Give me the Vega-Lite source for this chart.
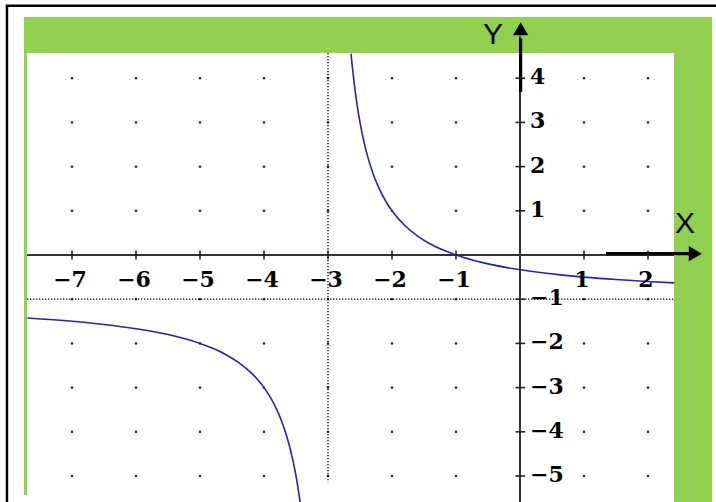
{
  "$schema": "https://vega.github.io/schema/vega-lite/v6.json",
  "width": 716,
  "height": 502,
  "autosize": "none",
  "padding": 0,
  "background": "white",
  "config": {"view": {"stroke": null}},
  "datasets": {
    "curve": [
      {"b": "L", "x": -7.70, "y": -1.426},
      {"b": "L", "x": -7.0, "y": -1.5},
      {"b": "L", "x": -6.5, "y": -1.571},
      {"b": "L", "x": -6.0, "y": -1.667},
      {"b": "L", "x": -5.5, "y": -1.8},
      {"b": "L", "x": -5.0, "y": -2.0},
      {"b": "L", "x": -4.8, "y": -2.111},
      {"b": "L", "x": -4.6, "y": -2.25},
      {"b": "L", "x": -4.4, "y": -2.429},
      {"b": "L", "x": -4.2, "y": -2.667},
      {"b": "L", "x": -4.1, "y": -2.818},
      {"b": "L", "x": -4.0, "y": -3.0},
      {"b": "L", "x": -3.9, "y": -3.222},
      {"b": "L", "x": -3.8, "y": -3.5},
      {"b": "L", "x": -3.7, "y": -3.857},
      {"b": "L", "x": -3.65, "y": -4.077},
      {"b": "L", "x": -3.6, "y": -4.333},
      {"b": "L", "x": -3.55, "y": -4.636},
      {"b": "L", "x": -3.5, "y": -5.0},
      {"b": "L", "x": -3.47, "y": -5.255},
      {"b": "L", "x": -3.44, "y": -5.545},
      {"b": "L", "x": -3.435, "y": -5.598},
      {"b": "R", "x": -2.64, "y": 4.556},
      {"b": "R", "x": -2.62, "y": 4.263},
      {"b": "R", "x": -2.6, "y": 4.0},
      {"b": "R", "x": -2.55, "y": 3.444},
      {"b": "R", "x": -2.5, "y": 3.0},
      {"b": "R", "x": -2.45, "y": 2.636},
      {"b": "R", "x": -2.4, "y": 2.333},
      {"b": "R", "x": -2.3, "y": 1.857},
      {"b": "R", "x": -2.2, "y": 1.5},
      {"b": "R", "x": -2.1, "y": 1.222},
      {"b": "R", "x": -2.0, "y": 1.0},
      {"b": "R", "x": -1.8, "y": 0.667},
      {"b": "R", "x": -1.6, "y": 0.429},
      {"b": "R", "x": -1.4, "y": 0.25},
      {"b": "R", "x": -1.2, "y": 0.111},
      {"b": "R", "x": -1.0, "y": 0.0},
      {"b": "R", "x": -0.6, "y": -0.167},
      {"b": "R", "x": -0.2, "y": -0.286},
      {"b": "R", "x": 0.2, "y": -0.375},
      {"b": "R", "x": 0.6, "y": -0.444},
      {"b": "R", "x": 1.0, "y": -0.5},
      {"b": "R", "x": 1.5, "y": -0.556},
      {"b": "R", "x": 2.0, "y": -0.6},
      {"b": "R", "x": 2.41, "y": -0.63}
    ],
    "gridDots": [
      {"gx": -7, "gy": [-5, -4, -3, -2, -1, 1, 2, 3, 4]},
      {"gx": -6, "gy": [-5, -4, -3, -2, -1, 1, 2, 3, 4]},
      {"gx": -5, "gy": [-5, -4, -3, -2, -1, 1, 2, 3, 4]},
      {"gx": -4, "gy": [-5, -4, -3, -2, -1, 1, 2, 3, 4]},
      {"gx": -3, "gy": [-5, -4, -3, -2, -1, 1, 2, 3, 4]},
      {"gx": -2, "gy": [-5, -4, -3, -2, -1, 1, 2, 3, 4]},
      {"gx": -1, "gy": [-5, -4, -3, -2, -1, 1, 2, 3, 4]},
      {"gx": 1, "gy": [-5, -4, -3, -2, -1, 1, 2, 3, 4]},
      {"gx": 2, "gy": [-5, -4, -3, -2, -1, 1, 2, 3, 4]}
    ],
    "xTicks": [
      {"v": -7, "t": "−7"}, {"v": -6, "t": "−6"}, {"v": -5, "t": "−5"},
      {"v": -4, "t": "−4"}, {"v": -3, "t": "−3"}, {"v": -2, "t": "−2"},
      {"v": -1, "t": "−1"}, {"v": 1, "t": "1"}, {"v": 2, "t": "2"}
    ],
    "yTicks": [
      {"v": 4, "t": "4"}, {"v": 3, "t": "3"}, {"v": 2, "t": "2"}, {"v": 1, "t": "1"},
      {"v": -1, "t": "−1"}, {"v": -2, "t": "−2"}, {"v": -3, "t": "−3"},
      {"v": -4, "t": "−4"}, {"v": -5, "t": "−5"}
    ],
    "one": [{}]
  },
  "layer": [
    {
      "data": {"name": "one"},
      "mark": {"type": "rule", "color": "black", "strokeWidth": 2.5},
      "encoding": {
        "x": {"datum": -8.016, "type": "quantitative", "scale": {"domain": [-8.125, 3.0625], "nice": false, "zero": false}, "axis": null},
        "y": {"datum": 5.64, "type": "quantitative", "scale": {"domain": [-5.5882, 5.7692], "nice": false, "zero": false}, "axis": null},
        "y2": {"datum": -5.6}
      }
    },
    {
      "data": {"name": "one"},
      "mark": {"type": "rule", "color": "black", "strokeWidth": 2.5},
      "encoding": {
        "x": {"datum": -8.035, "type": "quantitative"},
        "x2": {"datum": 3.07},
        "y": {"datum": 5.64, "type": "quantitative"}
      }
    },
    {
      "data": {"name": "one"},
      "mark": {"type": "rect", "color": "#92D050"},
      "encoding": {
        "x": {"datum": -7.75, "type": "quantitative"},
        "x2": {"datum": 3.0},
        "y": {"datum": 5.385, "type": "quantitative"},
        "y2": {"datum": -5.43}
      }
    },
    {
      "data": {"name": "one"},
      "mark": {"type": "rect", "color": "#92D050"},
      "encoding": {
        "x": {"datum": 2.406, "type": "quantitative"},
        "x2": {"datum": 3.0},
        "y": {"datum": -5.43, "type": "quantitative"},
        "y2": {"datum": -5.5882}
      }
    },
    {
      "data": {"name": "one"},
      "mark": {"type": "rect", "color": "white"},
      "encoding": {
        "x": {"datum": -7.703, "type": "quantitative"},
        "x2": {"datum": 2.406},
        "y": {"datum": 4.57, "type": "quantitative"},
        "y2": {"datum": -5.5882}
      }
    },
    {
      "data": {"name": "gridDots"},
      "transform": [{"flatten": ["gy"]}],
      "mark": {"type": "square", "color": "#222222", "size": 5, "opacity": 1},
      "encoding": {
        "x": {"field": "gx", "type": "quantitative"},
        "y": {"field": "gy", "type": "quantitative"}
      }
    },
    {
      "data": {"name": "one"},
      "mark": {"type": "rule", "color": "black", "strokeWidth": 1.3, "strokeDash": [1.3, 1.7]},
      "encoding": {
        "x": {"datum": -3, "type": "quantitative"},
        "y": {"datum": 4.57, "type": "quantitative"},
        "y2": {"datum": -5.14}
      }
    },
    {
      "data": {"name": "one"},
      "mark": {"type": "rule", "color": "black", "strokeWidth": 1.3, "strokeDash": [1.3, 1.7]},
      "encoding": {
        "x": {"datum": -7.703, "type": "quantitative"},
        "x2": {"datum": 2.406},
        "y": {"datum": -1, "type": "quantitative"}
      }
    },
    {
      "data": {"name": "curve"},
      "mark": {"type": "line", "color": "#2626a6", "strokeWidth": 1.6, "interpolate": "monotone", "clip": true},
      "encoding": {
        "x": {"field": "x", "type": "quantitative"},
        "y": {"field": "y", "type": "quantitative"},
        "detail": {"field": "b"}
      }
    },
    {
      "data": {"name": "one"},
      "mark": {"type": "rule", "color": "#333333", "strokeWidth": 2},
      "encoding": {
        "x": {"datum": -7.703, "type": "quantitative"},
        "x2": {"datum": 2.406},
        "y": {"datum": 0, "type": "quantitative"}
      }
    },
    {
      "data": {"name": "one"},
      "mark": {"type": "rule", "color": "#333333", "strokeWidth": 2},
      "encoding": {
        "x": {"datum": 0, "type": "quantitative"},
        "y": {"datum": 4.95, "type": "quantitative"},
        "y2": {"datum": -5.6}
      }
    },
    {
      "data": {"name": "one"},
      "mark": {"type": "rule", "color": "black", "strokeWidth": 3.2},
      "encoding": {
        "x": {"datum": 1.344, "type": "quantitative"},
        "x2": {"datum": 2.66},
        "y": {"datum": 0.03, "type": "quantitative"}
      }
    },
    {
      "data": {"name": "one"},
      "mark": {"type": "rule", "color": "black", "strokeWidth": 3.2},
      "encoding": {
        "x": {"datum": 0.01, "type": "quantitative"},
        "y": {"datum": 3.69, "type": "quantitative"},
        "y2": {"datum": 4.9}
      }
    },
    {
      "data": {"name": "one"},
      "mark": {"type": "point", "shape": "triangle-right", "filled": true, "color": "black", "opacity": 1, "size": 230},
      "encoding": {
        "x": {"datum": 2.74, "type": "quantitative"},
        "y": {"datum": 0.03, "type": "quantitative"}
      }
    },
    {
      "data": {"name": "one"},
      "mark": {"type": "point", "shape": "triangle-up", "filled": true, "color": "black", "opacity": 1, "size": 230},
      "encoding": {
        "x": {"datum": 0.01, "type": "quantitative"},
        "y": {"datum": 5.12, "type": "quantitative"}
      }
    },
    {
      "data": {"name": "xTicks"},
      "mark": {"type": "rule", "color": "#222222", "strokeWidth": 1.6},
      "encoding": {
        "x": {"field": "v", "type": "quantitative"},
        "y": {"datum": 0.1, "type": "quantitative"},
        "y2": {"datum": -0.1}
      }
    },
    {
      "data": {"name": "yTicks"},
      "mark": {"type": "rule", "color": "#222222", "strokeWidth": 1.6},
      "encoding": {
        "y": {"field": "v", "type": "quantitative"},
        "x": {"datum": -0.07, "type": "quantitative"},
        "x2": {"datum": 0.08}
      }
    },
    {
      "data": {"name": "xTicks"},
      "mark": {"type": "text", "font": "DejaVu Serif", "fontWeight": "bold", "fontSize": 22, "color": "black", "align": "center", "baseline": "middle", "dx": -2, "dy": 25},
      "encoding": {
        "x": {"field": "v", "type": "quantitative"},
        "y": {"datum": 0, "type": "quantitative"},
        "text": {"field": "t"}
      }
    },
    {
      "data": {"name": "yTicks"},
      "mark": {"type": "text", "font": "DejaVu Serif", "fontWeight": "bold", "fontSize": 22, "color": "black", "align": "left", "baseline": "middle", "dx": 10, "dy": -1},
      "encoding": {
        "y": {"field": "v", "type": "quantitative"},
        "x": {"datum": 0, "type": "quantitative"},
        "text": {"field": "t"}
      }
    },
    {
      "data": {"name": "one"},
      "mark": {"type": "text", "font": "Liberation Sans", "fontSize": 30, "color": "black", "align": "center", "baseline": "middle", "text": "X"},
      "encoding": {
        "x": {"datum": 2.58, "type": "quantitative"},
        "y": {"datum": 0.7, "type": "quantitative"}
      }
    },
    {
      "data": {"name": "one"},
      "mark": {"type": "text", "font": "Liberation Sans", "fontSize": 30, "color": "black", "align": "center", "baseline": "middle", "text": "Y"},
      "encoding": {
        "x": {"datum": -0.42, "type": "quantitative"},
        "y": {"datum": 4.98, "type": "quantitative"}
      }
    }
  ]
}
